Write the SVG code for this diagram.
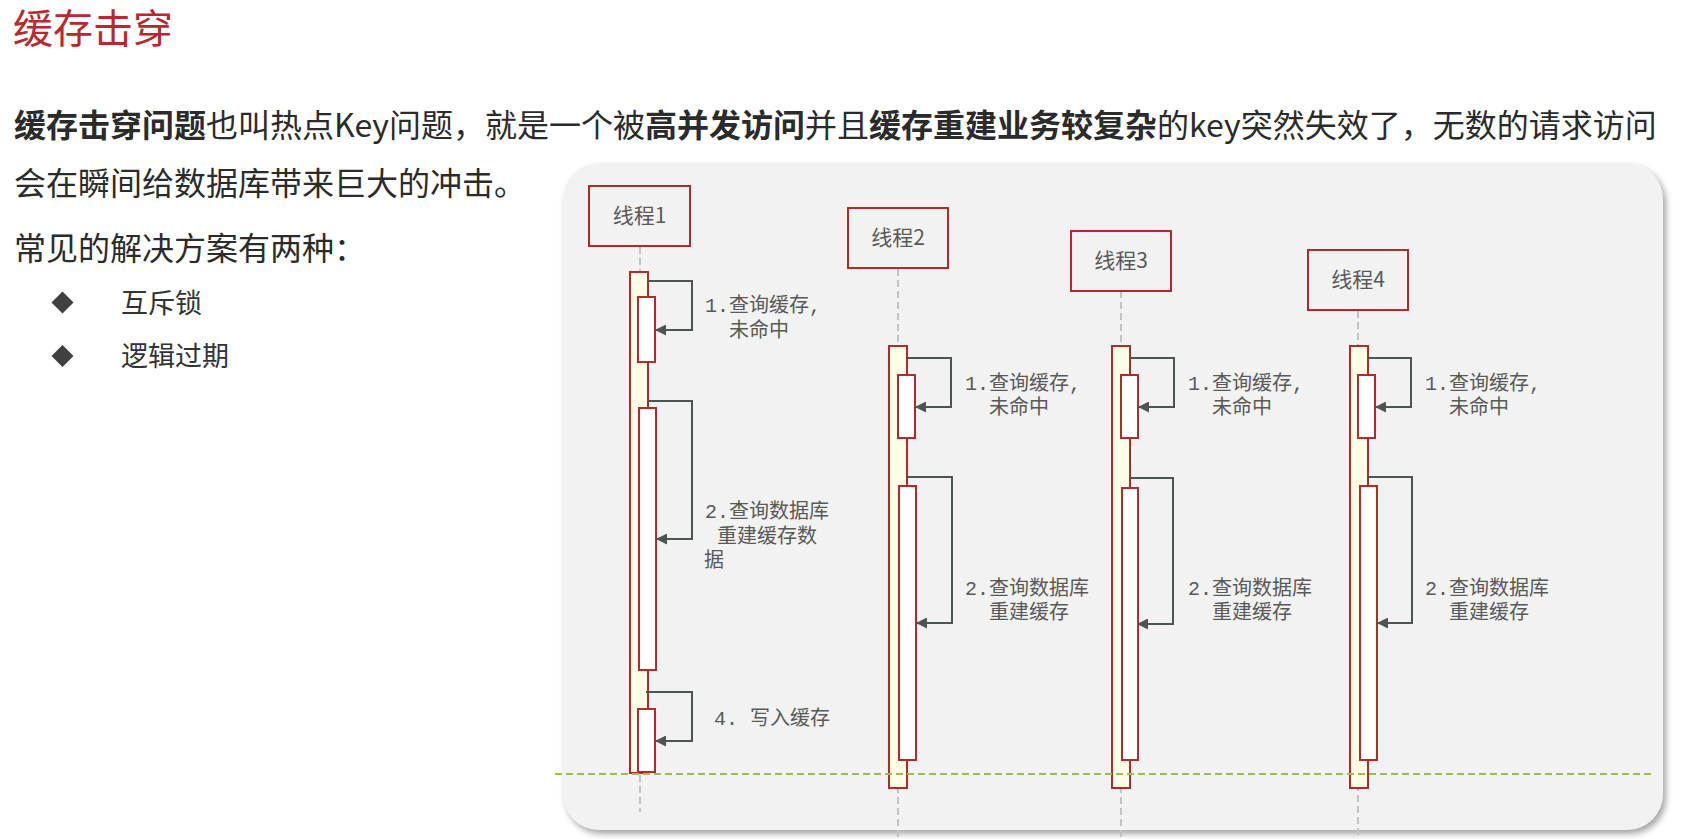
<svg xmlns="http://www.w3.org/2000/svg" width="1691" height="839" viewBox="0 0 1691 839">
<style>
.title{font-family:"Noto Sans CJK SC","Noto Sans",sans-serif;font-size:40px;fill:#B8282E}
.para{font-family:"Noto Sans CJK SC","Noto Sans",sans-serif;font-size:32px;fill:#2B2B2B}
.b{font-weight:bold}
.bul{font-family:"Noto Sans CJK SC","Noto Sans",sans-serif;font-size:27px;fill:#333333}
.head{fill:none;stroke:#B22A2A;stroke-width:2}
.htxt{font-family:"Noto Sans CJK SC","Noto Sans",sans-serif;font-size:21px;fill:#595959;text-anchor:middle}
.life{stroke:#C3C3C3;stroke-width:2;stroke-dasharray:7 4;fill:none}
.outer{fill:#FFFFE6;stroke:#B22A2A;stroke-width:2}
.inner{fill:#FFFFFF;stroke:#B22A2A;stroke-width:2}
.msg{fill:none;stroke:#4D5454;stroke-width:2;marker-end:url(#ah)}
.lbl{font-family:"Liberation Mono","Noto Sans CJK SC",monospace;font-size:20px;fill:#595959}
</style>
<defs>
<marker id="ah" viewBox="0 0 11 11" refX="10" refY="5.5" markerWidth="11" markerHeight="11" markerUnits="userSpaceOnUse" orient="auto">
<path d="M0,0 L11,5.5 L0,11 Z" fill="#4D5454"/>
</marker>
<filter id="sh" x="-5%" y="-5%" width="110%" height="112%">
<feDropShadow dx="3" dy="4" stdDeviation="3" flood-color="#7F7F7F" flood-opacity="0.7"/>
</filter>
</defs>
<rect width="1691" height="839" fill="#FFFFFF"/>
<text class="title" x="13" y="43">缓存击穿</text>
<text class="para" x="14" y="137"><tspan class="b">缓存击穿问题</tspan>也叫热点Key问题，就是一个被<tspan class="b">高并发访问</tspan>并且<tspan class="b">缓存重建业务较复杂</tspan>的key突然失效了，无数的请求访问</text>
<text class="para" x="14" y="195">会在瞬间给数据库带来巨大的冲击。</text>
<text class="para" x="14" y="260">常见的解决方案有两种：</text>
<path d="M62.5,291.5 L73.5,302.5 L62.5,313.5 L51.5,302.5 Z" fill="#404040"/>
<text class="bul" x="121" y="313">互斥锁</text>
<path d="M62.5,345 L73.5,356 L62.5,367 L51.5,356 Z" fill="#404040"/>
<text class="bul" x="121" y="366">逻辑过期</text>
<rect x="563" y="163" width="1100" height="667" rx="36" fill="#F2F2F2" filter="url(#sh)"/>
<g id="lifelines">
<line class="life" x1="640" y1="247" x2="640" y2="812"/>
<line class="life" x1="898" y1="269" x2="898" y2="839"/>
<line class="life" x1="1121" y1="291" x2="1121" y2="839"/>
<line class="life" x1="1358" y1="311" x2="1358" y2="839"/>
</g>
<g id="thread1">
<rect class="head" x="589" y="186" width="101" height="60"/>
<text class="htxt" x="639.5" y="223">线程1</text>
<rect class="outer" x="630" y="272" width="18" height="501"/>
<rect class="inner" x="638" y="297" width="17" height="65"/>
<rect class="inner" x="639" y="408" width="17" height="262"/>
<rect class="inner" x="638" y="709" width="17" height="63"/>
</g>
<g id="thread2">
<rect class="head" x="848" y="208" width="100" height="60"/>
<text class="htxt" x="898" y="245">线程2</text>
<rect class="outer" x="889" y="346" width="18" height="442"/>
<rect class="inner" x="898" y="375" width="17" height="63"/>
<rect class="inner" x="899" y="486" width="17" height="274"/>
</g>
<g id="thread3">
<rect class="head" x="1071" y="231" width="100" height="60"/>
<text class="htxt" x="1121" y="268">线程3</text>
<rect class="outer" x="1112" y="346" width="18" height="442"/>
<rect class="inner" x="1121" y="375" width="17" height="63"/>
<rect class="inner" x="1122" y="488" width="16" height="272"/>
</g>
<g id="thread4">
<rect class="head" x="1308" y="250" width="100" height="60"/>
<text class="htxt" x="1358" y="287">线程4</text>
<rect class="outer" x="1350" y="346" width="18" height="442"/>
<rect class="inner" x="1358" y="375" width="17" height="63"/>
<rect class="inner" x="1360" y="486" width="17" height="274"/>
</g>
<g id="connectors">
<path class="msg" d="M647,281 H692 V330 H656"/>
<path class="msg" d="M648,401 H692 V539 H657"/>
<path class="msg" d="M646,692 H692 V741 H656"/>
<path class="msg" d="M907,358 H951 V407 H916"/>
<path class="msg" d="M907,477 H952 V623 H917"/>
<path class="msg" d="M1130,358 H1174 V407 H1139"/>
<path class="msg" d="M1130,478 H1173 V624 H1138"/>
<path class="msg" d="M1368,358 H1411 V407 H1376"/>
<path class="msg" d="M1368,477 H1412 V623 H1378"/>
</g>
<g id="labels">
<text class="lbl" x="705" y="312">1.查询缓存,</text>
<text class="lbl" x="729" y="337">未命中</text>
<text class="lbl" x="705" y="518">2.查询数据库</text>
<text class="lbl" x="717" y="543">重建缓存数</text>
<text class="lbl" x="704" y="567">据</text>
<text class="lbl" x="714" y="725">4. 写入缓存</text>
<text class="lbl" x="965" y="390">1.查询缓存,</text>
<text class="lbl" x="989" y="414">未命中</text>
<text class="lbl" x="965" y="595">2.查询数据库</text>
<text class="lbl" x="989" y="619">重建缓存</text>
<text class="lbl" x="1188" y="390">1.查询缓存,</text>
<text class="lbl" x="1212" y="414">未命中</text>
<text class="lbl" x="1188" y="595">2.查询数据库</text>
<text class="lbl" x="1212" y="619">重建缓存</text>
<text class="lbl" x="1425" y="390">1.查询缓存,</text>
<text class="lbl" x="1449" y="414">未命中</text>
<text class="lbl" x="1425" y="595">2.查询数据库</text>
<text class="lbl" x="1449" y="619">重建缓存</text>
</g>
<line x1="555" y1="774" x2="1653" y2="774" stroke="#9BBB59" stroke-width="2" stroke-dasharray="7 4"/>
</svg>
